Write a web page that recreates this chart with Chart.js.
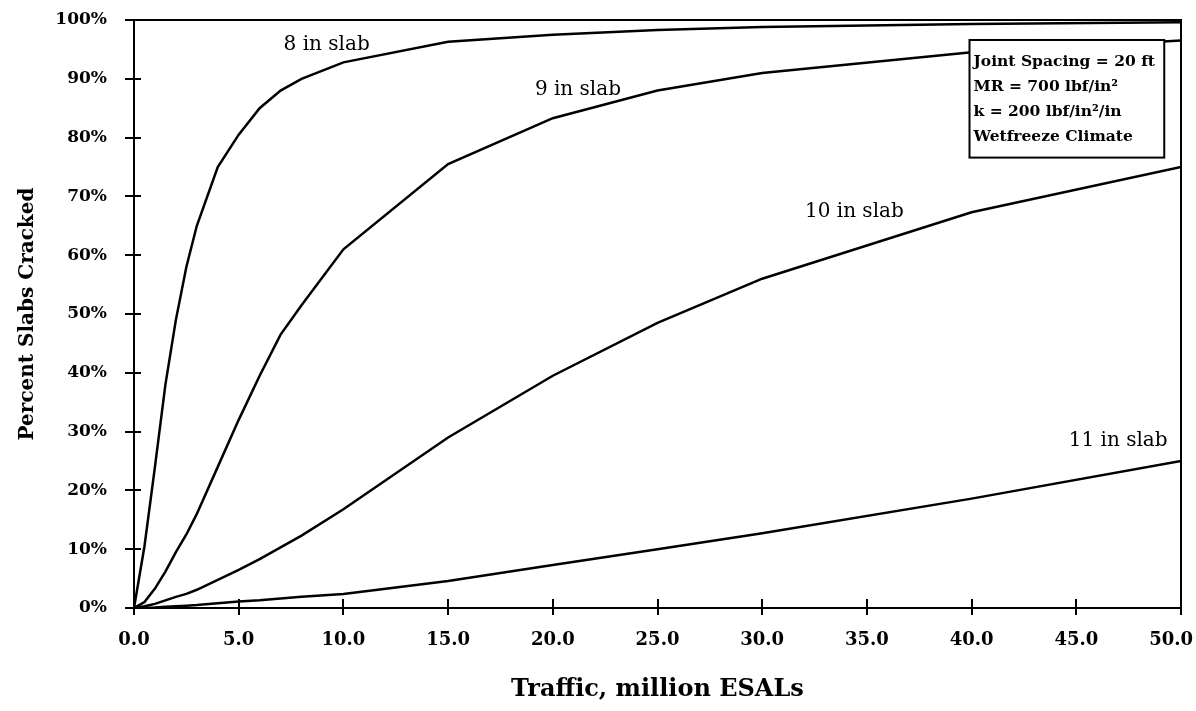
<!DOCTYPE html>
<html>
<head>
<meta charset="utf-8">
<title>Percent Slabs Cracked</title>
<script src="https://cdn.jsdelivr.net/npm/chart.js@4.4.0/dist/chart.umd.min.js"></script>
<style>
  html, body { margin: 0; padding: 0; background: #fff; }
  #wrap { width: 1196px; height: 711px; }
</style>
</head>
<body>
<div id="wrap"><canvas id="crackChart" width="1196" height="711"></canvas></div>
<script>
// traffic in million ESALs, cracking in percent of slabs
const traffic = [0, 0.5, 1, 1.5, 2, 2.5, 3, 4, 5, 6, 7, 8, 10, 15, 20, 25, 30, 40, 50];
const slab8  = [0, 10.5, 24, 38, 49, 58, 65, 75, 80.5, 85, 88, 90, 92.8, 96.3, 97.5, 98.3, 98.8, 99.3, 99.6];
const slab9  = [0, 1, 3.3, 6.2, 9.5, 12.5, 16, 24, 32, 39.5, 46.5, 51.5, 61, 75.5, 83.3, 88, 91, 94.5, 96.5];
const slab10 = [0, 0.3, 0.7, 1.3, 1.9, 2.4, 3.1, 4.8, 6.5, 8.3, 10.3, 12.3, 16.8, 29, 39.5, 48.5, 56, 67.3, 75];
const slab11 = [0, 0.05, 0.1, 0.2, 0.3, 0.4, 0.5, 0.8, 1.1, 1.3, 1.6, 1.9, 2.4, 4.6, 7.3, 10, 12.7, 18.6, 25];

const slabNames = ["8 in slab", "9 in slab", "10 in slab", "11 in slab"];
const noteLines = ["Joint Spacing = 20 ft", "MR = 700 lbf/in\u00b2", "k = 200 lbf/in\u00b2/in", "Wetfreeze Climate"];

const SERIF = "'DejaVu Serif', 'Liberation Serif', serif";

function toPoints(values) {
  return traffic.map((t, i) => ({ x: t, y: values[i] }));
}

const series = [slab8, slab9, slab10, slab11].map((vals, i) => ({
  label: slabNames[i],
  data: toPoints(vals),
  showLine: true,
  borderColor: "#000",
  borderWidth: 2.5,
  pointRadius: 0,
  tension: 0,
  fill: false
}));

// frame, crossing tick marks, x tick labels, curve labels and the note box
const decorations = {
  id: "decorations",
  afterDatasetsDraw(chart) {
    const { ctx, chartArea: a, scales: { x, y } } = chart;
    ctx.save();
    ctx.strokeStyle = "#000";
    ctx.lineWidth = 2;
    ctx.strokeRect(a.left, a.top, a.right - a.left, a.bottom - a.top);

    y.ticks.forEach(t => {
      const py = Math.round(y.getPixelForValue(t.value));
      ctx.beginPath();
      ctx.moveTo(a.left - 9, py);
      ctx.lineTo(a.left + 7, py);
      ctx.stroke();
    });
    x.ticks.forEach(t => {
      const px = Math.round(x.getPixelForValue(t.value));
      ctx.beginPath();
      ctx.moveTo(px, a.bottom - 9);
      ctx.lineTo(px, a.bottom + 7);
      ctx.stroke();
    });

    // x tick labels, the last one kept inside the canvas
    ctx.fillStyle = "#000";
    ctx.font = "bold 18px " + SERIF;
    ctx.textAlign = "center";
    ctx.textBaseline = "middle";
    x.ticks.forEach(t => {
      const text = t.value.toFixed(1);
      const w = ctx.measureText(text).width;
      const px = Math.min(x.getPixelForValue(t.value), chart.width - 3 - w / 2);
      ctx.fillText(text, px, a.bottom + 32);
    });

    // curve labels
    ctx.font = "20px " + SERIF;
    const spots = [[9.2, 95.8], [21.2, 88.1], [34.4, 67.3], [47.0, 28.5]];
    spots.forEach((s, i) => {
      ctx.fillText(slabNames[i], x.getPixelForValue(s[0]), y.getPixelForValue(s[1]));
    });

    // note box
    const bx = x.getPixelForValue(39.9), bx2 = x.getPixelForValue(49.2);
    const by = y.getPixelForValue(96.6), by2 = y.getPixelForValue(76.6);
    ctx.fillStyle = "#fff";
    ctx.fillRect(bx, by, bx2 - bx, by2 - by);
    ctx.lineWidth = 2;
    ctx.strokeRect(bx, by, bx2 - bx, by2 - by);
    ctx.fillStyle = "#000";
    ctx.font = "bold 15.5px " + SERIF;
    ctx.textAlign = "left";
    noteLines.forEach((line, i) => {
      ctx.fillText(line, bx + 4, by + 22 + i * 25);
    });
    ctx.restore();
  }
};

new Chart(document.getElementById("crackChart"), {
  type: "scatter",
  data: { datasets: series },
  options: {
    responsive: false,
    animation: false,
    layout: { padding: { left: 0, right: 15, top: 20, bottom: 0 } },
    plugins: { legend: { display: false }, tooltip: { enabled: false } },
    scales: {
      x: {
        type: "linear",
        min: 0,
        max: 50,
        afterFit: scale => {
          scale.height = 103;
          scale.paddingLeft = 0;
          scale.paddingRight = 0;
        },
        ticks: { stepSize: 5, display: false },
        grid: { display: false, drawTicks: false },
        border: { display: false },
        title: {
          display: true,
          text: "Traffic, million ESALs",
          color: "#000",
          font: { family: SERIF, size: 24, weight: "bold" },
          padding: { top: 0, bottom: 7 }
        }
      },
      y: {
        min: 0,
        max: 100,
        afterFit: scale => {
          scale.width = 134;
          scale.paddingTop = 0;
          scale.paddingBottom = 0;
        },
        ticks: {
          stepSize: 10,
          padding: 27,
          color: "#000",
          font: { family: SERIF, size: 17, weight: "bold" },
          callback: v => v + "%"
        },
        grid: { display: false, drawTicks: false },
        border: { display: false },
        title: {
          display: true,
          text: "Percent Slabs Cracked",
          color: "#000",
          font: { family: SERIF, size: 20, weight: "bold" },
          padding: { top: 16, bottom: 0 }
        }
      }
    }
  },
  plugins: [decorations]
});
</script>
</body>
</html>
